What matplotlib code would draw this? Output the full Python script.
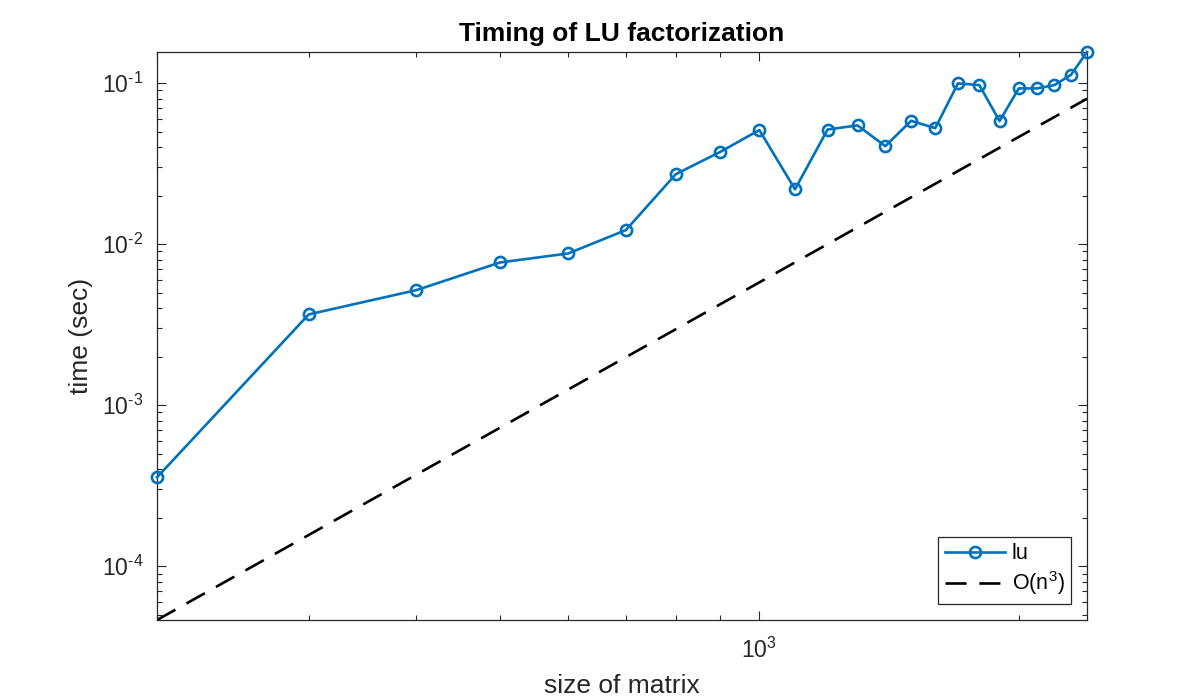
import matplotlib
matplotlib.use('Agg')
import matplotlib.pyplot as plt
import numpy as np
from matplotlib.ticker import LogLocator, NullFormatter, FuncFormatter

plt.rcParams['font.family'] = ['Liberation Sans', 'DejaVu Sans']
plt.rcParams['mathtext.fontset'] = 'custom'
plt.rcParams['mathtext.rm'] = 'Liberation Sans'
plt.rcParams['mathtext.it'] = 'Liberation Sans:italic'
plt.rcParams['mathtext.bf'] = 'Liberation Sans:bold'
plt.rcParams['mathtext.default'] = 'regular'
plt.rcParams['axes.unicode_minus'] = False

# ---- data ----
sizes = [200, 300, 400, 500, 600, 700, 800, 900, 1000, 1100, 1200, 1300,
         1400, 1500, 1600, 1700, 1800, 1900, 2000, 2100, 2200, 2300, 2400]
lu_times = [3.56e-4, 3.66e-3, 5.18e-3, 7.69e-3, 8.75e-3, 1.222e-2, 2.72e-2,
            3.73e-2, 5.11e-2, 2.19e-2, 5.15e-2, 5.46e-2, 4.06e-2, 5.83e-2,
            5.25e-2, 9.96e-2, 9.72e-2, 5.81e-2, 9.27e-2, 9.27e-2, 9.72e-2,
            0.1127, 0.156]
ref_at_largest = 0.08   # value of the O(n^3) guide line at the largest size
title_text = 'Timing of LU factorization'
xlabel_text = 'size of matrix'
ylabel_text = 'time (sec)'
legend_labels = ['lu', 'O(n$^{3}$)']

n = np.array(sizes, dtype=float)
ref = ref_at_largest * (n / n[-1]) ** 3


def pow10_label(v, pos):
    e = int(round(np.log10(v)))
    if e < 0:
        return '$10^{\\text{-}%d}$' % (-e)
    return '$10^{%d}$' % e


axis_col = '#262626'
fig = plt.figure(figsize=(12, 7), dpi=100)
ax = fig.add_axes([157 / 1200, 80 / 700, 930 / 1200, 568 / 700])

ax.loglog(sizes, lu_times, '-o', color='#0072BD', lw=1.9, ms=8,
          mfc='none', mew=1.9, label=legend_labels[0], zorder=3, clip_on=False)
ax.loglog(sizes, ref, color='k', lw=1.9, ls=(0, (8, 4.8)),
          label=legend_labels[1], zorder=2)

ax.set_xlim(sizes[0], sizes[-1])
ax.set_ylim(min(ref), max(lu_times))

ax.xaxis.set_major_locator(LogLocator(base=10, numticks=10))
ax.xaxis.set_minor_locator(LogLocator(base=10, subs=np.arange(2, 10), numticks=20))
ax.xaxis.set_major_formatter(FuncFormatter(pow10_label))
ax.xaxis.set_minor_formatter(NullFormatter())
ax.yaxis.set_major_locator(LogLocator(base=10, numticks=10))
ax.yaxis.set_minor_locator(LogLocator(base=10, subs=np.arange(2, 10), numticks=20))
ax.yaxis.set_major_formatter(FuncFormatter(pow10_label))
ax.yaxis.set_minor_formatter(NullFormatter())

for s in ax.spines.values():
    s.set_color(axis_col)
    s.set_linewidth(0.9)
ax.tick_params(which='both', direction='in', top=True, right=True,
               color=axis_col, labelcolor=axis_col, width=0.8)
ax.tick_params(which='major', length=6.5, labelsize=16.5)
ax.tick_params(axis='x', which='major', pad=13)
ax.tick_params(axis='y', which='major', pad=10)
ax.tick_params(which='minor', length=3.4)

ax.set_title(title_text, fontsize=19, fontweight='bold', color='black', pad=8)
ax.set_xlabel(xlabel_text, fontsize=19, color=axis_col, labelpad=8)
ax.set_ylabel(ylabel_text, fontsize=19, color=axis_col, labelpad=6)

leg = ax.legend(loc='lower right', fontsize=15.5, frameon=True, fancybox=False,
                edgecolor=axis_col, framealpha=1, handlelength=2.8,
                borderaxespad=0.75, handletextpad=0.3, borderpad=0.3,
                labelspacing=0.25)
leg.get_frame().set_linewidth(0.9)

fig.savefig('out.png', dpi=100, facecolor='white')
